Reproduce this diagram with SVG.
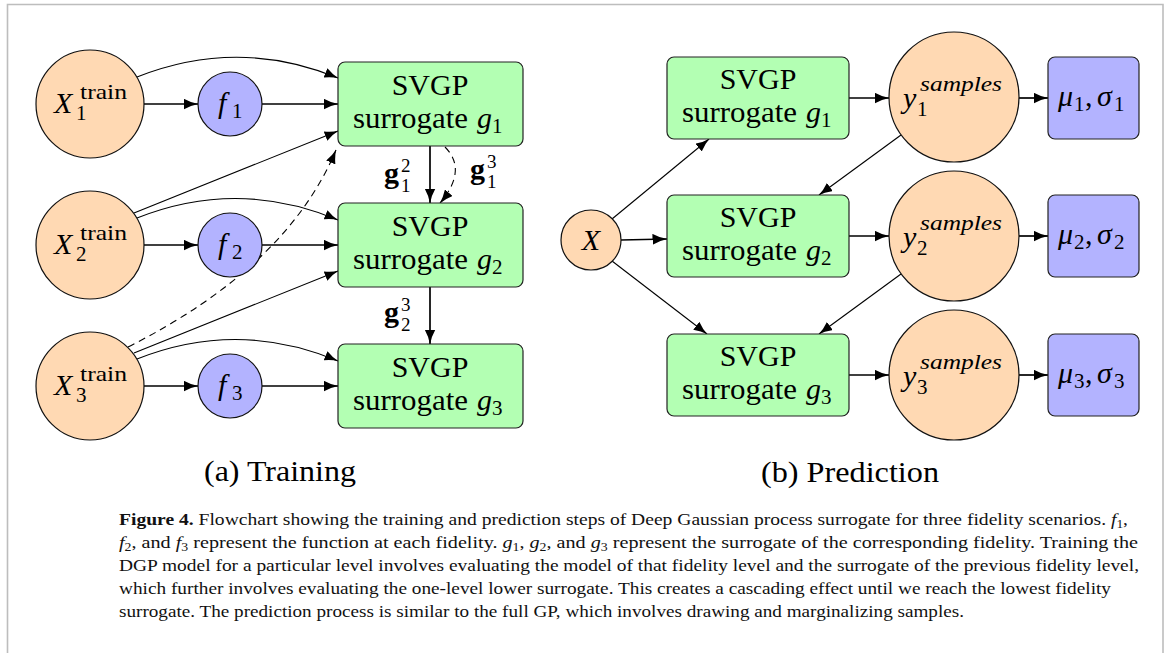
<svg xmlns="http://www.w3.org/2000/svg" width="1167" height="653" viewBox="0 0 1167 653" font-family="'Liberation Serif', serif">
  <style>
    .orange { fill: #FFD9B3; stroke: #111; stroke-width: 1.2; }
    .blue { fill: #B3B3FF; stroke: #111; stroke-width: 1.2; }
    .green { fill: #B3FFB3; stroke: #222; stroke-width: 1.2; }
    .purple { fill: #B3B3FF; stroke: #222; stroke-width: 1.2; }
    text { font-family: 'Liberation Serif', serif; }
    .lbl { font-size: 30px; fill: #000; }
    .it { font-style: italic; }
    .sm { font-size: 21px; fill: #000; }
    .ss { font-size: 19px; fill: #000; }
    .bf { font-weight: bold; }
    .thick { fill: none; stroke: #000; stroke-width: 1.7; marker-end: url(#head); }
    .thin { fill: none; stroke: #000; stroke-width: 1.1; marker-end: url(#headThin); }
    .dash { stroke-dasharray: 7 5; }
    .cap { font-size: 17.5px; fill: #111; }
    .frame { fill: none; stroke: #bdbdbd; stroke-width: 1.6; }
  </style>
  <defs>
    <marker id="head" viewBox="0 0 15 11" refX="14.5" refY="5.5" markerWidth="15" markerHeight="11" markerUnits="userSpaceOnUse" orient="auto">
      <path d="M0,0 Q7,4.2 15,5.5 Q7,6.8 0,11 Z" fill="#000"/>
    </marker>
    <marker id="headThin" viewBox="0 0 14 10" refX="13.5" refY="5" markerWidth="14" markerHeight="10" markerUnits="userSpaceOnUse" orient="auto">
      <path d="M0,0 Q7,3.8 14,5 Q7,6.2 0,10 Z" fill="#000"/>
    </marker>
  </defs>

  <rect width="1167" height="653" fill="#fff"/>
  <path class="frame" d="M7.5,653 V4.5 H1163 V653"/>

  <!-- Training: connectors -->
  <g id="training-edges">
    <line class="thick" x1="144" y1="104" x2="198" y2="104"/>
    <line class="thick" x1="262" y1="104" x2="338" y2="104"/>
    <line class="thick" x1="144" y1="245" x2="198" y2="245"/>
    <line class="thick" x1="262" y1="245" x2="338" y2="245"/>
    <line class="thick" x1="144" y1="386" x2="198" y2="386"/>
    <line class="thick" x1="262" y1="386" x2="338" y2="386"/>
    <path class="thin" d="M137,77 Q238,37 338,78"/>
    <line class="thin" x1="134" y1="213" x2="338" y2="131"/>
    <path class="thin" d="M137,218 Q238,178 338,220"/>
    <line class="thin" x1="134" y1="353" x2="338" y2="271"/>
    <path class="thin" d="M137,359 Q238,319 338,361"/>
    <path class="thin dash" d="M128,347 Q287,267 336,150"/>
    <line class="thick" x1="430" y1="146" x2="430" y2="203"/>
    <line class="thick" x1="430" y1="287" x2="430" y2="344"/>
    <path class="thin dash" d="M445,147 Q468,170 440,203"/>
    <text class="lbl bf" x="384" y="183">g</text><text class="ss" x="401" y="172">2</text><text class="ss" x="401" y="192">1</text>
    <text class="lbl bf" x="470" y="179">g</text><text class="ss" x="487" y="168">3</text><text class="ss" x="487" y="188">1</text>
    <text class="lbl bf" x="384" y="322">g</text><text class="ss" x="401" y="311">3</text><text class="ss" x="401" y="331">2</text>
  </g>

  <!-- Training: nodes -->
  <g id="x1-train">
    <circle class="orange" cx="90" cy="104" r="54"/>
    <text class="lbl it" x="54" y="113">X</text>
    <text class="sm" x="80" y="99" textLength="47" lengthAdjust="spacingAndGlyphs">train</text>
    <text class="sm" x="76" y="120">1</text>
  </g>
  <g id="x2-train">
    <circle class="orange" cx="90" cy="245" r="54"/>
    <text class="lbl it" x="54" y="254">X</text>
    <text class="sm" x="80" y="240" textLength="47" lengthAdjust="spacingAndGlyphs">train</text>
    <text class="sm" x="76" y="261">2</text>
  </g>
  <g id="x3-train">
    <circle class="orange" cx="90" cy="386" r="54"/>
    <text class="lbl it" x="54" y="395">X</text>
    <text class="sm" x="80" y="381" textLength="47" lengthAdjust="spacingAndGlyphs">train</text>
    <text class="sm" x="76" y="402">3</text>
  </g>
  <g id="f1">
    <circle class="blue" cx="230" cy="104" r="32"/>
    <text class="lbl it" x="218" y="113">f</text><text class="sm" x="232" y="118">1</text>
  </g>
  <g id="f2">
    <circle class="blue" cx="230" cy="245" r="32"/>
    <text class="lbl it" x="218" y="254">f</text><text class="sm" x="232" y="259">2</text>
  </g>
  <g id="f3">
    <circle class="blue" cx="230" cy="386" r="32"/>
    <text class="lbl it" x="218" y="395">f</text><text class="sm" x="232" y="400">3</text>
  </g>
  <g id="g1-train">
    <rect class="green" x="338" y="62" width="185" height="84" rx="7"/>
    <text class="lbl" x="430" y="95" text-anchor="middle">SVGP</text>
    <text class="lbl" x="353" y="128" textLength="115" lengthAdjust="spacingAndGlyphs">surrogate</text>
    <text class="lbl it" x="477" y="128">g</text><text class="sm" x="492" y="133">1</text>
  </g>
  <g id="g2-train">
    <rect class="green" x="338" y="203" width="185" height="84" rx="7"/>
    <text class="lbl" x="430" y="236" text-anchor="middle">SVGP</text>
    <text class="lbl" x="353" y="269" textLength="115" lengthAdjust="spacingAndGlyphs">surrogate</text>
    <text class="lbl it" x="477" y="269">g</text><text class="sm" x="492" y="274">2</text>
  </g>
  <g id="g3-train">
    <rect class="green" x="338" y="344" width="185" height="84" rx="7"/>
    <text class="lbl" x="430" y="377" text-anchor="middle">SVGP</text>
    <text class="lbl" x="353" y="410" textLength="115" lengthAdjust="spacingAndGlyphs">surrogate</text>
    <text class="lbl it" x="477" y="410">g</text><text class="sm" x="492" y="415">3</text>
  </g>
  <text class="lbl" x="280" y="481" text-anchor="middle" textLength="152" lengthAdjust="spacingAndGlyphs">(a) Training</text>

  <!-- Prediction: connectors -->
  <g id="prediction-edges">
    <line class="thin" x1="612" y1="219" x2="709" y2="139"/>
    <line class="thick" x1="621" y1="240" x2="667" y2="239"/>
    <line class="thin" x1="612" y1="261" x2="707" y2="334"/>
    <line class="thick" x1="849" y1="98" x2="889" y2="98"/>
    <line class="thick" x1="849" y1="236" x2="889" y2="236"/>
    <line class="thick" x1="849" y1="375" x2="889" y2="375"/>
    <line class="thick" x1="1019" y1="98" x2="1048" y2="98"/>
    <line class="thick" x1="1019" y1="236" x2="1048" y2="236"/>
    <line class="thick" x1="1019" y1="375" x2="1048" y2="375"/>
    <line class="thin" x1="901" y1="135" x2="819" y2="195"/>
    <line class="thin" x1="901" y1="274" x2="819" y2="334"/>
  </g>

  <!-- Prediction: nodes -->
  <g id="x-pred">
    <circle class="orange" cx="591" cy="240" r="30"/>
    <text class="lbl it" x="591" y="250" text-anchor="middle">X</text>
  </g>
  <g id="g1-pred">
    <rect class="green" x="667" y="57" width="182" height="82" rx="7"/>
    <text class="lbl" x="758" y="89" text-anchor="middle">SVGP</text>
    <text class="lbl" x="682" y="122" textLength="115" lengthAdjust="spacingAndGlyphs">surrogate</text>
    <text class="lbl it" x="806" y="122">g</text><text class="sm" x="821" y="127">1</text>
  </g>
  <g id="g2-pred">
    <rect class="green" x="667" y="195" width="182" height="82" rx="7"/>
    <text class="lbl" x="758" y="227" text-anchor="middle">SVGP</text>
    <text class="lbl" x="682" y="260" textLength="115" lengthAdjust="spacingAndGlyphs">surrogate</text>
    <text class="lbl it" x="806" y="260">g</text><text class="sm" x="821" y="265">2</text>
  </g>
  <g id="g3-pred">
    <rect class="green" x="667" y="334" width="182" height="82" rx="7"/>
    <text class="lbl" x="758" y="366" text-anchor="middle">SVGP</text>
    <text class="lbl" x="682" y="399" textLength="115" lengthAdjust="spacingAndGlyphs">surrogate</text>
    <text class="lbl it" x="806" y="399">g</text><text class="sm" x="821" y="404">3</text>
  </g>
  <g id="y1-samples">
    <circle class="orange" cx="954" cy="97" r="65"/>
    <text class="lbl it" x="903" y="108">y</text>
    <text class="sm it" x="920" y="91" textLength="82" lengthAdjust="spacingAndGlyphs">samples</text>
    <text class="sm" x="917" y="116">1</text>
  </g>
  <g id="y2-samples">
    <circle class="orange" cx="954" cy="236" r="65"/>
    <text class="lbl it" x="903" y="247">y</text>
    <text class="sm it" x="920" y="230" textLength="82" lengthAdjust="spacingAndGlyphs">samples</text>
    <text class="sm" x="917" y="255">2</text>
  </g>
  <g id="y3-samples">
    <circle class="orange" cx="954" cy="375" r="65"/>
    <text class="lbl it" x="903" y="386">y</text>
    <text class="sm it" x="920" y="369" textLength="82" lengthAdjust="spacingAndGlyphs">samples</text>
    <text class="sm" x="917" y="394">3</text>
  </g>
  <g id="stats1">
    <rect class="purple" x="1048" y="57" width="91" height="82" rx="7"/>
    <text class="lbl it" x="1058" y="106">μ</text><text class="sm" x="1074" y="111">1</text>
    <text class="lbl" x="1085" y="106">,</text>
    <text class="lbl it" x="1097" y="106">σ</text><text class="sm" x="1114" y="111">1</text>
  </g>
  <g id="stats2">
    <rect class="purple" x="1048" y="195" width="91" height="82" rx="7"/>
    <text class="lbl it" x="1058" y="244">μ</text><text class="sm" x="1074" y="249">2</text>
    <text class="lbl" x="1085" y="244">,</text>
    <text class="lbl it" x="1097" y="244">σ</text><text class="sm" x="1114" y="249">2</text>
  </g>
  <g id="stats3">
    <rect class="purple" x="1048" y="334" width="91" height="82" rx="7"/>
    <text class="lbl it" x="1058" y="383">μ</text><text class="sm" x="1074" y="388">3</text>
    <text class="lbl" x="1085" y="383">,</text>
    <text class="lbl it" x="1097" y="383">σ</text><text class="sm" x="1114" y="388">3</text>
  </g>
  <text class="lbl" x="850" y="482" text-anchor="middle" textLength="178" lengthAdjust="spacingAndGlyphs">(b) Prediction</text>

  <!-- Caption -->
  <g id="caption">
    <text class="cap" x="119" y="525" textLength="1009" lengthAdjust="spacingAndGlyphs"><tspan font-weight="bold">Figure 4.</tspan> Flowchart showing the training and prediction steps of Deep Gaussian process surrogate for three fidelity scenarios. <tspan font-style="italic">f</tspan><tspan font-size="12" dy="3">1</tspan><tspan dy="-3">,</tspan></text>
    <text class="cap" x="119" y="548" textLength="1019" lengthAdjust="spacingAndGlyphs"><tspan font-style="italic">f</tspan><tspan font-size="12" dy="3">2</tspan><tspan dy="-3">, and </tspan><tspan font-style="italic">f</tspan><tspan font-size="12" dy="3">3</tspan><tspan dy="-3"> represent the function at each fidelity. </tspan><tspan font-style="italic">g</tspan><tspan font-size="12" dy="3">1</tspan><tspan dy="-3">, </tspan><tspan font-style="italic">g</tspan><tspan font-size="12" dy="3">2</tspan><tspan dy="-3">, and </tspan><tspan font-style="italic">g</tspan><tspan font-size="12" dy="3">3</tspan><tspan dy="-3"> represent the surrogate of the corresponding fidelity. Training the</tspan></text>
    <text class="cap" x="119" y="571" textLength="1020" lengthAdjust="spacingAndGlyphs">DGP model for a particular level involves evaluating the model of that fidelity level and the surrogate of the previous fidelity level,</text>
    <text class="cap" x="119" y="594" textLength="992" lengthAdjust="spacingAndGlyphs">which further involves evaluating the one-level lower surrogate. This creates a cascading effect until we reach the lowest fidelity</text>
    <text class="cap" x="119" y="617" textLength="845" lengthAdjust="spacingAndGlyphs">surrogate. The prediction process is similar to the full GP, which involves drawing and marginalizing samples.</text>
  </g>
</svg>
